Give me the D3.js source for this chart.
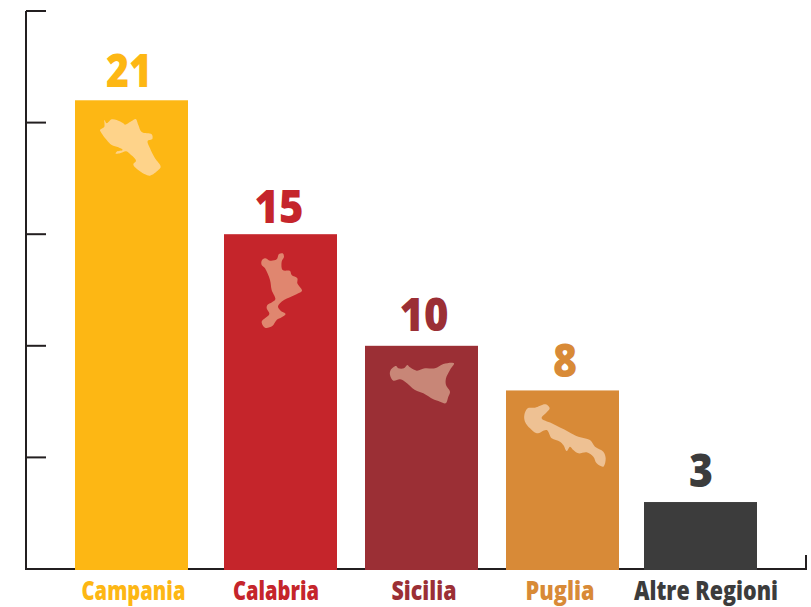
<!DOCTYPE html>
<html><head><meta charset="utf-8">
<script src="https://cdn.jsdelivr.net/npm/d3@7"></script>
<style>html,body{margin:0;padding:0;background:#fff}svg{display:block}</style>
</head><body><svg id="c" width="811" height="607"></svg>
<script>
const categories=["Campania","Calabria","Sicilia","Puglia","Altre Regioni"];
const values=[21,15,10,8,3];
const barColors=["#FDB714","#C5252B","#9B2F35","#D88A37","#3C3C3C"];
const mapColors=["#FED38A","#E0866F","#C88677","#EEC193",null];
const yTicks=[0,5,10,15,20,25];
const campaniaOutline=[[103,90],[110,100],[125,88],[140,90],[160,100],[165,104],[185,93],[197,87],[205,105],[215,126],[245,133],[247,147],[233,153],[240,175],[255,205],[272,230],[265,240],[240,257],[225,253],[195,232],[190,222],[198,212],[180,192],[168,184],[150,190],[137,191],[140,185],[158,180],[145,172],[125,165],[110,150],[92,125],[90,120],[103,110]];
const calabriaOutline=[[65,62],[75,55],[90,62],[110,58],[117,42],[128,40],[132,50],[125,65],[128,90],[150,93],[155,105],[172,115],[172,130],[186,152],[175,160],[150,172],[132,180],[120,190],[114,200],[122,212],[137,222],[125,232],[110,240],[97,258],[75,263],[65,245],[75,235],[88,222],[80,205],[82,195],[96,187],[106,178],[95,150],[90,120],[75,85],[65,75]];
const siciliaOutline=[[32,60],[48,48],[55,55],[72,55],[82,45],[90,52],[110,62],[135,55],[165,55],[190,42],[222,40],[210,60],[198,85],[198,105],[210,125],[205,140],[197,160],[180,155],[160,148],[130,130],[105,120],[75,95],[60,88],[40,92],[30,75]];
const pugliaOutline=[[38,40],[60,38],[92,28],[104,40],[95,52],[80,70],[110,85],[160,110],[190,125],[225,135],[240,155],[265,170],[272,190],[265,215],[245,205],[235,185],[215,172],[190,175],[175,165],[165,155],[155,168],[145,150],[135,140],[110,130],[95,105],[65,115],[45,100],[30,80],[28,60]];
const outlines=[campaniaOutline,calabriaOutline,siciliaOutline,pugliaOutline,null];

// layout
const barLeft=[75,224,365,506,644], barW=113;
const mapOrigin=[[70,90],[240,240],[380,350],[515,395],null];
const labelCenter=[133.5,276,424,560,706], labelWidth=[104,86,65,69,144];
const valueCenter=[129,279,424,565,701], valueWidth=[46,49,49,24,24];
const valueGap=[13,11,15,13.5,15];
const ink="#231F20", font="'Open Sans','Noto Sans',sans-serif";

const svg=d3.select("#c");
const y=d3.scaleLinear().domain([0,25]).range([569,11]);
const x=d3.scaleOrdinal().domain(categories).range(barLeft);
const lx=d3.scaleOrdinal().domain(categories).range(labelCenter);
const vx=d3.scaleOrdinal().domain(categories).range(valueCenter);
const data=categories.map((c,i)=>({c,v:values[i],col:barColors[i],mc:mapColors[i],o:outlines[i],org:mapOrigin[i],lw:labelWidth[i],vw:valueWidth[i],gap:valueGap[i]}));

// axes
const yAxis=svg.append("g").attr("transform","translate(26,0)")
  .call(d3.axisLeft(y).offset(0).tickValues(yTicks).tickSize(-20).tickSizeOuter(0).tickFormat(""));
yAxis.selectAll("line,path").attr("stroke",ink).attr("stroke-width",2);
yAxis.select(".domain").attr("fill","none");
const xBase=d3.scaleLinear().domain([0,1]).range([25,807]);
svg.append("g").attr("transform","translate(0,569)")
  .call(d3.axisBottom(xBase).offset(0).tickValues([1]).tickSize(-14).tickSizeOuter(0).tickFormat(""))
  .call(g=>g.selectAll("line,path").attr("stroke",ink).attr("stroke-width",2))
  .call(g=>g.select(".tick line").attr("transform","translate(-1,0)"))
  .call(g=>g.select(".domain").attr("fill","none"));

// bars
svg.selectAll("rect.bar").data(data).join("rect").attr("class","bar")
  .attr("x",d=>x(d.c)).attr("width",barW).attr("y",d=>y(d.v)).attr("height",d=>y(0)-y(d.v)+1).attr("fill",d=>d.col);

// region silhouettes
const line=d3.line().curve(d3.curveCatmullRomClosed.alpha(0.5));
svg.selectAll("path.map").data(data.filter(d=>d.o)).join("path").attr("class","map")
  .attr("transform",d=>`translate(${d.org[0]},${d.org[1]}) scale(${1/3})`)
  .attr("d",d=>line(d.o)).attr("fill",d=>d.mc);

// value labels
svg.selectAll("text.val").data(data).join("text").attr("class","val")
  .attr("x",d=>vx(d.c)).attr("y",d=>y(d.v)-d.gap).attr("text-anchor","middle")
  .attr("font-family",font).attr("font-weight",800).attr("font-size",46)
  .attr("textLength",d=>d.vw).attr("lengthAdjust","spacingAndGlyphs")
  .attr("fill",d=>d.col).text(d=>d.v);

// category labels
svg.selectAll("text.cat").data(data).join("text").attr("class","cat")
  .attr("x",d=>lx(d.c)).attr("y",600).attr("text-anchor","middle")
  .attr("font-family",font).attr("font-weight",800).attr("font-size",26.5)
  .attr("textLength",d=>d.lw).attr("lengthAdjust","spacingAndGlyphs")
  .attr("fill",d=>d.col).text(d=>d.c);
</script></body></html>
